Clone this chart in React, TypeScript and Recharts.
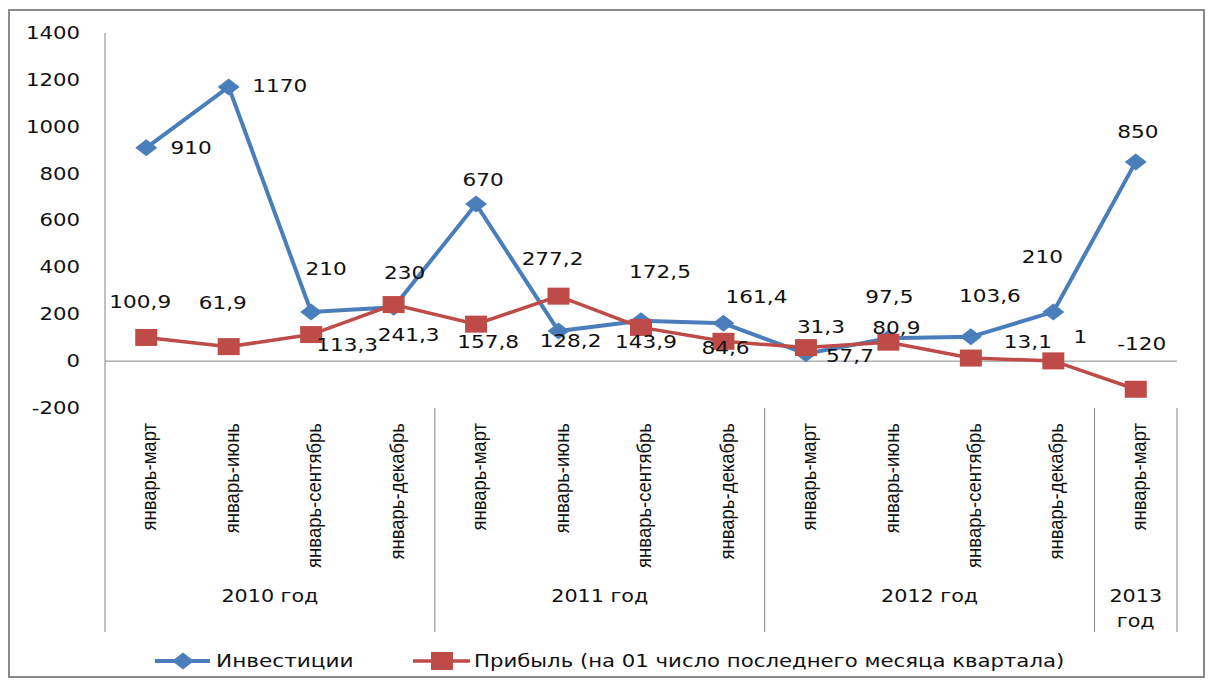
import React from 'react';
import { LineChart, Line, XAxis, YAxis, ReferenceLine, LabelList, Legend } from 'recharts';

// quarter periods (cumulative from January)
const periods = [
  'январь-март', 'январь-июнь', 'январь-сентябрь', 'январь-декабрь',
  'январь-март', 'январь-июнь', 'январь-сентябрь', 'январь-декабрь',
  'январь-март', 'январь-июнь', 'январь-сентябрь', 'январь-декабрь',
  'январь-март',
];
const years = ['2010 год', '2011 год', '2012 год', '2013 год'];
const yearSpans = [4, 4, 4, 1];

const investments = [910, 1170, 210, 230, 670, 128.2, 172.5, 161.4, 31.3, 97.5, 103.6, 210, 850];
const profit = [100.9, 61.9, 113.3, 241.3, 157.8, 277.2, 143.9, 84.6, 57.7, 80.9, 13.1, 1, -120];

const yTicks = [-200, 0, 200, 400, 600, 800, 1000, 1200, 1400];

const seriesNames = ['Инвестиции', 'Прибыль (на 01 число последнего месяца квартала)'];

const data = periods.map((p, i) => ({
  period: p,
  inv: investments[i],
  profit: profit[i],
}));

// label placement relative to the point (dx, dy), as arranged in the original
const invLabelShift = [
  [45, 0], [51, -1], [15, -43], [11, -35], [7, -24], [12, 10], [19, -49],
  [33, -27], [15, -27], [1, -42], [19, -41], [-11, -55], [2, -30],
];
const profitLabelShift = [
  [-6, -36], [-6, -44], [36, 10], [15, 30], [12, 18], [-6, -37], [5, 14],
  [2, 6], [44, 8], [8, -14], [57, -16], [27, -24], [6, -46],
];

const W = 1211;
const H = 682;
const M = { top: 33, right: 34, bottom: 74, left: 45 };
const Y_AXIS_W = 60;
const X_AXIS_H = 200;
const PLOT_W = W - M.left - M.right - Y_AXIS_W;
const BAND = PLOT_W / periods.length;

const BLUE = '#4A7EBB';
const RED = '#BE4B48';
const GRID = '#868686';
const NUM_FONT = '"DejaVu Sans", Verdana, sans-serif';
const CAT_FONT = '"Liberation Sans Narrow", "Liberation Sans", Arial, sans-serif';

const fmt = (v: number) => String(v).replace('.', ',');

const StretchText = ({ x, y, children, anchor = 'middle', size = 18, sx = 1.2 }: any) => (
  <g transform={`translate(${x},${y}) scale(${sx},1)`}>
    <text x={0} y={0} dy="0.35em" textAnchor={anchor} fontFamily={NUM_FONT} fontSize={size} fill="#111">
      {children}
    </text>
  </g>
);

const groupStarts = yearSpans.map((_, g) => yearSpans.slice(0, g).reduce((a, b) => a + b, 0));

const CategoryTick = (props: any) => {
  const { x, y, payload } = props;
  const i = payload.index;
  const g = groupStarts.indexOf(i);
  const left = x - BAND / 2;
  return (
    <g>
      <g transform={`translate(${x + 3},${y + 15}) scale(1.1,1) rotate(-90)`}>
        <text x={0} y={0} dy="0.35em" textAnchor="end" fontFamily={CAT_FONT} fontSize={18.5} fill="#111">
          {payload.value}
        </text>
      </g>
      {g >= 0 && (
        <>
          <line x1={left} x2={left} y1={y} y2={y + 224} stroke={GRID} strokeWidth={1} />
          {yearSpans[g] > 1 ? (
            <StretchText x={left + (yearSpans[g] * BAND) / 2} y={y + 188} sx={1.15}>
              {years[g]}
            </StretchText>
          ) : (
            years[g].split(' ').map((part, k) => (
              <StretchText key={k} x={left + BAND / 2} y={y + 188 + k * 25} sx={1.15}>
                {part}
              </StretchText>
            ))
          )}
        </>
      )}
      {i === periods.length - 1 && (
        <line x1={x + BAND / 2} x2={x + BAND / 2} y1={y} y2={y + 224} stroke={GRID} strokeWidth={1} />
      )}
    </g>
  );
};

const ValueTick = (props: any) => {
  const { x, y, payload } = props;
  return (
    <StretchText x={x - 25} y={y} anchor="end" size={17} sx={1.25}>
      {payload.value}
    </StretchText>
  );
};

const diamond = (cx: number, cy: number) =>
  `M${cx - 11},${cy} L${cx},${cy - 8.5} L${cx + 11},${cy} L${cx},${cy + 8.5} Z`;

const InvDot = (p: any) => <path key={`d${p.index}`} d={diamond(p.cx, p.cy)} fill={BLUE} />;
const ProfitDot = (p: any) => (
  <rect key={`s${p.index}`} x={p.cx - 11} y={p.cy - 8.5} width={22} height={17} fill={RED} />
);

const makeLabel = (shift: number[][]) => (p: any) => {
  const { x, y, value, index } = p;
  const [dx, dy] = shift[index];
  return (
    <StretchText key={index} x={x + dx} y={y + dy}>
      {fmt(value)}
    </StretchText>
  );
};

const LegendBox = () => (
  <svg width={W} height={30} style={{ display: 'block' }}>
    <line x1={155} x2={210} y1={15} y2={15} stroke={BLUE} strokeWidth={4} />
    <path d={diamond(183, 15)} fill={BLUE} />
    <StretchText x={216} y={15} anchor="start">{seriesNames[0]}</StretchText>
    <line x1={413} x2={470} y1={15} y2={15} stroke={RED} strokeWidth={3.5} />
    <rect x={431} y={6} width={22} height={18} fill={RED} />
    <StretchText x={474} y={15} anchor="start" sx={1.18}>{seriesNames[1]}</StretchText>
  </svg>
);

export default function App() {
  return (
    <div style={{ position: 'absolute', left: 0, top: 0, width: W, height: H, background: '#fff' }}>
      <div
        style={{
          position: 'absolute',
          left: 8,
          top: 9,
          width: 1193,
          height: 665,
          border: '2px solid #8a8a8a',
        }}
      />
      <div style={{ position: 'absolute', left: 0, top: 0 }}>
        <LineChart width={W} height={H} data={data} margin={M}>
          <XAxis
            dataKey="period"
            padding={{ left: BAND / 2, right: BAND / 2 }}
            interval={0}
            axisLine={false}
            tickLine={false}
            tickSize={0}
            tickMargin={0}
            height={X_AXIS_H}
            tick={<CategoryTick />}
          />
          <YAxis
            width={Y_AXIS_W}
            domain={[-200, 1400]}
            ticks={yTicks}
            interval={0}
            axisLine={{ stroke: GRID, strokeWidth: 1 }}
            tickLine={false}
            tickSize={0}
            tickMargin={0}
            tick={<ValueTick />}
          />
          <ReferenceLine y={0} stroke={GRID} strokeWidth={1} />
          <Line
            dataKey="inv"
            name={seriesNames[0]}
            stroke={BLUE}
            strokeWidth={4}
            dot={InvDot}
            activeDot={false}
            isAnimationActive={false}
          >
            <LabelList dataKey="inv" content={makeLabel(invLabelShift)} />
          </Line>
          <Line
            dataKey="profit"
            name={seriesNames[1]}
            stroke={RED}
            strokeWidth={3.5}
            dot={ProfitDot}
            activeDot={false}
            isAnimationActive={false}
          >
            <LabelList dataKey="profit" content={makeLabel(profitLabelShift)} />
          </Line>
          <Legend
            layout="vertical"
            align="center"
            verticalAlign="middle"
            content={<LegendBox />}
            wrapperStyle={{ left: 0, top: 646, width: W, height: 30 }}
          />
        </LineChart>
      </div>
    </div>
  );
}
